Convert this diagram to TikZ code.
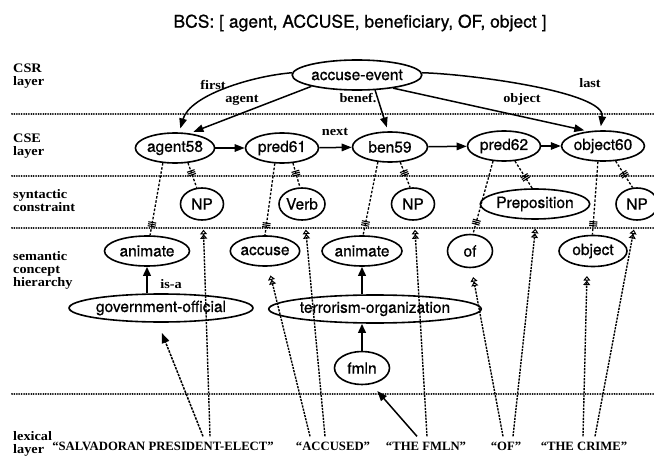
\documentclass[tikz,border=0pt]{standalone}
\usepackage{fontspec}
\setmainfont{Liberation Serif}
\newfontfamily\hvfont[FakeBold=0.8]{TeX Gyre Heros}
\newfontfamily\tmfont[FakeStretch=1.1]{Liberation Serif}
\usetikzlibrary{arrows.meta,decorations.markings,shapes.geometric}
\tikzset{
  ell/.style={draw, ellipse, line width=1.6pt, inner sep=0pt, font=\hvfont\fontsize{15.5}{17}\selectfont},
  layer/.style={anchor=west, align=left, inner sep=0pt, font=\tmfont\bfseries\fontsize{13}{13}\selectfont},
  elab/.style={inner sep=1pt, font=\tmfont\bfseries\fontsize{13}{13}\selectfont},
  lex/.style={anchor=base, inner xsep=1pt, inner ysep=5pt, font=\bfseries\fontsize{12.7}{14}\selectfont},
  sepline/.style={line width=2pt, line cap=round, dash pattern=on 0.01pt off 2.4pt},
  arr/.style={line width=1.5pt, -{Triangle[length=10pt,width=7.5pt]}},
  csr/.style={arr, shorten >=4pt},
  isa/.style={line width=2.2pt, -{Triangle[length=9pt,width=7.5pt]}},
  cdash/.style={line width=1.3pt, dash pattern=on 2.5pt off 1.7pt},
  tribar/.style={postaction={decorate, decoration={markings, mark=at position #1 with {\draw[solid, line width=1.1pt] (-2pt,-4pt)--(-2pt,4pt) (0pt,-4pt)--(0pt,4pt) (2pt,-4pt)--(2pt,4pt);}}}},
  lexl/.style={line width=1.4pt, dash pattern=on 2.2pt off 1.1pt, shorten >=9pt,
    -{Triangle[open,length=4.5pt,width=7pt,line width=1pt] Triangle[open,length=4.5pt,width=7pt,line width=1pt]}},
  lexarr/.style={line width=1.5pt, dash pattern=on 2.5pt off 1.1pt, shorten >=11pt, -{Triangle[length=10pt,width=7.5pt]}},
  fmarr/.style={line width=1.5pt, shorten >=9pt, -{Triangle[length=10pt,width=7.5pt]}},
}
\begin{document}
\begin{tikzpicture}[x=1pt,y=-1pt]
\useasboundingbox (0,0) rectangle (654,460);

% title
\node[font=\hvfont\fontsize{17.5}{20}\selectfont, inner sep=0pt] (title) at (360,23) {BCS: [ agent, ACCUSE, beneficiary, OF, object ]};

% layer separators
\draw[sepline] (12,114) -- (654,114);
\draw[sepline] (12,176) -- (654,176);
\draw[sepline] (12,228) -- (654,228);
\draw[sepline] (12,394) -- (654,394);

% layer labels
\node[layer] (lcsr) at (13,76) {CSR\\layer};
\node[layer] (lcse) at (13,146) {CSE\\layer};
\node[layer] (lsyn) at (13,201) {syntactic\\constraint};
\node[layer] (lsem) at (13,270) {semantic\\concept\\hierarchy};
\node[layer] (llex) at (13,444) {lexical\\layer};

% CSR
\node[ell, minimum width=108pt, minimum height=30pt] (ae) at (357,75) {accuse-event};

% CSE
\node[ell, minimum width=70pt, minimum height=30pt] (agent58) at (175,148) {agent58};
\node[ell, minimum width=73pt, minimum height=30pt] (pred61) at (282,148) {pred61};
\node[ell, minimum width=75pt, minimum height=30pt] (ben59) at (390,147) {ben59};
\node[ell, minimum width=73pt, minimum height=30pt] (pred62) at (504,146) {pred62};
\node[ell, minimum width=70pt, minimum height=30pt] (object60) at (603,146) {object60};

% syntactic constraints
\node[ell, minimum width=43pt, minimum height=32pt] (np1) at (202,204) {NP};
\node[ell, minimum width=46pt, minimum height=32pt] (verb) at (302,204) {Verb};
\node[ell, minimum width=43pt, minimum height=32pt] (np2) at (413,204) {NP};
\node[ell, minimum width=85pt, minimum height=30pt] (prep) at (535,204) {Preposition};
\node[ell, minimum width=42pt, minimum height=32pt] (np3) at (637,204) {NP};

% semantic concepts
\node[ell, minimum width=85pt, minimum height=30pt] (anim1) at (147,251) {animate};
\node[ell, minimum width=64pt, minimum height=30pt] (accuse) at (265,251) {accuse};
\node[ell, minimum width=80pt, minimum height=30pt] (anim2) at (362,251) {animate};
\node[ell, minimum width=45pt, minimum height=33pt] (of) at (470,251) {of};
\node[ell, minimum width=68pt, minimum height=31pt] (object) at (593,251) {object};
\node[ell, minimum width=145pt, minimum height=28pt] (gov) at (161,308) {government-official};
\node[ell, minimum width=165pt, minimum height=28pt] (terr) at (375,309) {terrorism-organization};
\node[ell, minimum width=55pt, minimum height=33pt] (fmln) at (362,368) {fmln};

% lexical items
\node[lex] (salv) at (163,450) {“SALVADORAN PRESIDENT-ELECT”};
\node[lex] (accused) at (333,450) {“ACCUSED”};
\node[lex] (thefmln) at (426,450) {“THE FMLN”};
\node[lex] (oftxt) at (506,450) {“OF”};
\node[lex] (crime) at (584,450) {“THE CRIME”};

% CSR -> CSE
\draw[csr] (ae.178) .. controls (252,76) and (190,95) .. (agent58.75);
\draw[csr] (ae.194) -- (agent58.45);
\draw[csr] (ae.320) -- (ben59.97);
\draw[csr] (ae.340) -- (object60.135);
\draw[csr] (ae.2) .. controls (470,74) and (606,92) .. (object60.100);
\node[elab] (lfirst) at (213,85) {first};
\node[elab] (lagent) at (242,100) {agent};
\node[elab] (lbenef) at (358,98) {benef.};
\node[elab] (lobject) at (522,99) {object};
\node[elab] (llast) at (590,83) {last};

% CSE chain
\draw[arr] (agent58) -- (pred61);
\draw[arr] (pred61) -- (ben59);
\draw[arr] (ben59) -- (pred62);
\draw[arr] (pred62) -- (object60);
\node[elab] (lnext) at (335,132) {next};

% CSE -> constraints / concepts
\draw[cdash, tribar=0.85] (agent58.231) -- (anim1.79);
\draw[cdash, tribar=0.4] (agent58.311) -- (np1.108);
\draw[cdash, tribar=0.86] (pred61.245) -- (accuse.90);
\draw[cdash, tribar=0.42] (pred61.306) -- (verb.97);
\draw[cdash, tribar=0.84] (ben59.231) -- (anim2.86);
\draw[cdash, tribar=0.43] (ben59.304) -- (np2.100);
\draw[cdash, tribar=0.84] (pred62.234) -- (of.80);
\draw[cdash, tribar=0.6] (pred62.306) -- (prep.100);
\draw[cdash, tribar=0.85] (object60.252) -- (object.92);
\draw[cdash, tribar=0.5] (object60.310) -- (np3.105);

% is-a
\draw[isa] (anim1.south |- gov.north) -- (anim1.south);
\node[elab] (lisa) at (171,284) {is-a};
\draw[isa] (anim2.south |- terr.north) -- (anim2.south);
\draw[isa] (fmln.north) -- (fmln.north |- terr.south);

% lexical links
\draw[lexarr] ([xshift=40pt]salv.north) -- (gov.258);
\draw[lexl] ([xshift=47pt]salv.north) -- (np1.274);
\draw[lexl] ([xshift=-23pt]accused.north) -- (accuse.282);
\draw[lexl] ([xshift=-8pt]accused.north) -- (verb.280);
\draw[fmarr] ([xshift=-9pt]thefmln.north) -- (fmln.300);
\draw[lexl] ([xshift=1pt]thefmln.north) -- (np2.275);
\draw[lexl] ([xshift=-3pt]oftxt.north) -- (of.275);
\draw[lexl] ([xshift=7pt]oftxt.north) -- (prep.275);
\draw[lexl] ([xshift=-1pt]crime.north) -- (object.250);
\draw[lexl] ([xshift=11pt]crime.north) -- (np3.265);
\end{tikzpicture}
\end{document}
